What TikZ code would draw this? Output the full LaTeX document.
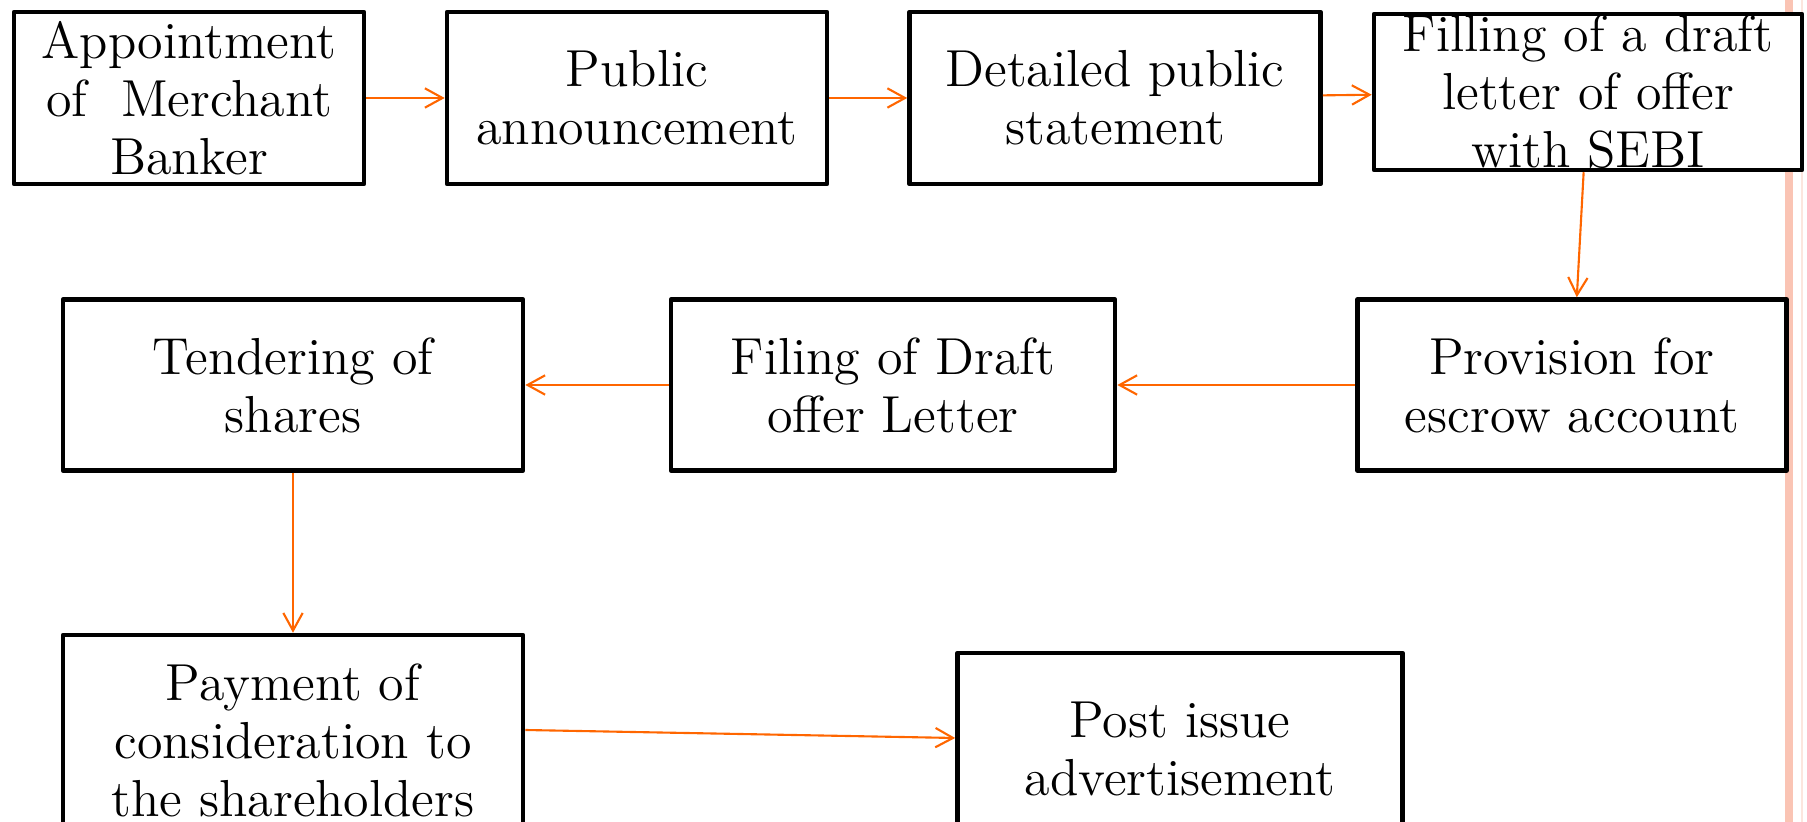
\documentclass[tikz,border=0pt]{standalone}
\usepackage{fontspec}
\usepackage{xcolor}
\definecolor{Col1}{RGB}{255,102,0}
\definecolor{Col2}{RGB}{250,196,180}
\definecolor{Col3}{RGB}{252,230,222}
\usepackage{tikz}
\usetikzlibrary{arrows.meta}
\tikzstyle{Box}=[rectangle,draw=black,fill=white,line width=1.25pt,
line join=round,inner sep=0pt,align=center,
font=\fontsize{14.8}{16.5}\selectfont]
\tikzstyle{Edge}=[draw=Col1,line width=0.6pt,
-{Straight Barb[length=5pt,width=5.5pt]}]

\begin{document}
\begin{tikzpicture}[x=0.01cm,y=-0.01cm]
        \useasboundingbox(0,0)rectangle(1807,822);
        \clip(0,0)rectangle(1807,822);
        \fill[Col2](1785,0)rectangle(1793,822);
        \fill[Col3](1801,0)rectangle(1803,822);
        \node[Box,minimum width=3.50cm,minimum height=1.72cm](appoint)
            at(189,98){Appointment\\of~ Merchant\\Banker};
        \node[Box,minimum width=3.80cm,minimum height=1.72cm](announce)
            at(637,98){Public\\announcement};
        \node[Box,minimum width=4.11cm,minimum height=1.72cm](statement)
            at(1115,98){Detailed public\\statement};
        \node[Box,minimum width=4.28cm,minimum height=1.56cm](draft)
            at(1588,92){Filling of a draft\\letter of offer\\with SEBI};
        \node[Box,minimum width=4.29cm,minimum height=1.71cm](escrow)
            at(1572,385){Provision for\\escrow account};
        \node[Box,minimum width=4.44cm,minimum height=1.71cm](filing)
            at(893,385){Filing of Draft\\offer Letter};
        \node[Box,minimum width=4.60cm,minimum height=1.71cm](tender)
            at(293,385){Tendering of\\shares};
        \node[Box,minimum width=4.60cm,minimum height=2.10cm](pay)
            at(293,740){Payment of\\consideration to\\the shareholders};
        \node[Box,minimum width=4.45cm,minimum height=1.92cm](post)
            at(1180,749){Post issue\\advertisement};
        \draw[Edge](appoint)--(announce);
        \draw[Edge](announce)--(statement);
        \draw[Edge](statement)--(draft);
        \draw[Edge](draft)--(escrow);
        \draw[Edge](escrow)--(filing);
        \draw[Edge](filing)--(tender);
        \draw[Edge](tender)--(pay);
        \draw[Edge]([yshift=0.10cm]pay.east)--([yshift=0.11cm]post.west);
    \end{tikzpicture}
\end{document}
